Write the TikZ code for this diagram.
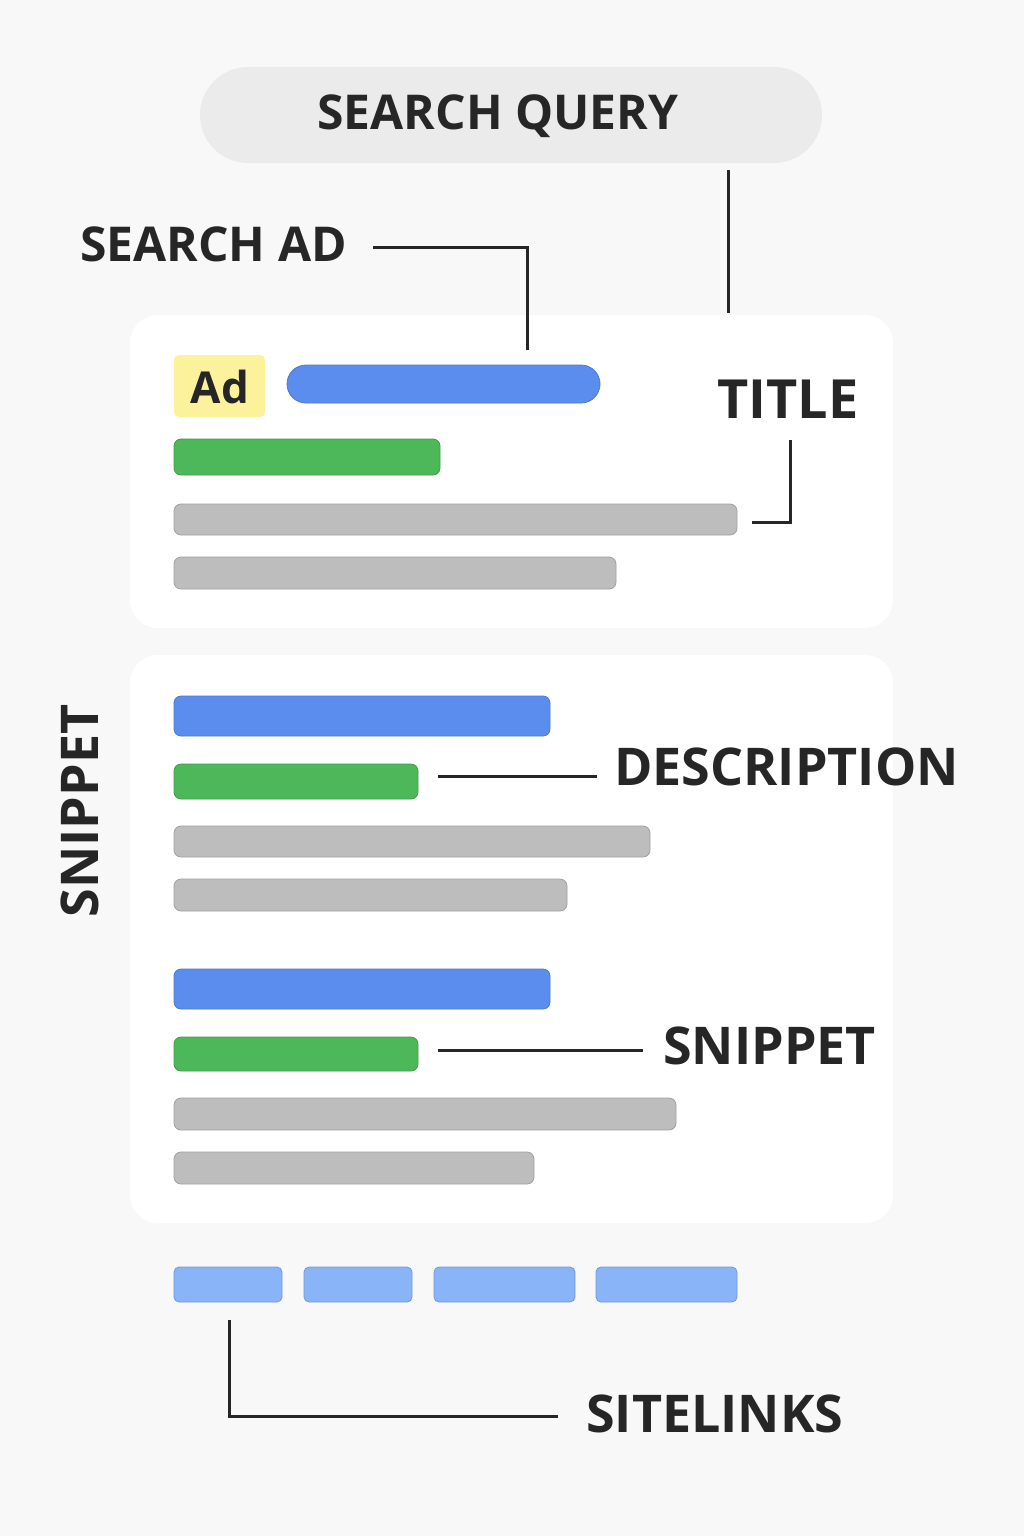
\documentclass[tikz,border=0pt]{standalone}
\usepackage{fontspec}
\setmainfont{Open Sans}
\begin{document}
\begin{tikzpicture}[x=1pt,y=-1pt,
  bar/.style={rounded corners=7pt,line width=0.8pt},
  blu/.style={bar,fill=blue1,draw=blue1!85!black},
  grn/.style={bar,fill=green1,draw=green1!85!black},
  gry/.style={bar,fill=gray1,draw=gray1!85!black},
  lnk/.style={rounded corners=5pt,fill=blue2,draw=blue2!85!black,line width=0.8pt},
  card/.style={fill=white,rounded corners=28pt},
  lbl/.style={font=\fontsize{48}{48}\selectfont\bfseries,text=black!85,inner sep=0pt},
  big/.style={lbl,font=\fontsize{52}{52}\selectfont\bfseries},
  conn/.style={line width=3pt,draw=black!85}]
\definecolor{blue1}{HTML}{5B8DEF}
\definecolor{blue2}{HTML}{8AB4F8}
\definecolor{green1}{HTML}{4CB85A}
\definecolor{gray1}{HTML}{BDBDBD}
\definecolor{bg}{HTML}{F8F8F8}
\definecolor{ylw}{HTML}{FCF29C}
\fill[bg] (0,0) rectangle (1024,1536);
\useasboundingbox (0,0) rectangle (1024,1536);
% query
\fill[black!8,rounded corners=48pt] (200,67) rectangle (822,163);
\node[lbl,anchor=center] (q) at (498,116) {SEARCH QUERY};
% cards
\fill[card] (130,315) rectangle (893,628);
\fill[card] (130,655) rectangle (893,1223);
\coordinate (q1) at (728,170); \coordinate (q2) at (728,313);
\draw[conn] (q1) -- (q2);
% search ad
\node[lbl,anchor=west] (sa) at (80,244) {SEARCH AD};
\coordinate (sa1) at (373,247); \coordinate (sa2) at (527,350);
\draw[conn] (sa1) -| (sa2);
% card 1
\fill[ylw,rounded corners=5pt] (174,355) rectangle (265,417);
\node[lbl,font=\fontsize{44}{44}\selectfont\bfseries] (ad) at (220,387) {Ad};
\draw[blu,rounded corners=19pt] (287,365) rectangle (600,403);
\draw[grn] (174,439) rectangle (440,475);
\draw[gry] (174,504) rectangle (737,535);
\draw[gry] (174,557) rectangle (616,589);
\node[big,font=\fontsize{54}{54}\selectfont\bfseries] (t) at (788,399) {TITLE};
\coordinate (t1) at (790,440); \coordinate (t2) at (752,522);
\draw[conn] (t1) |- (t2);
% card 2
\draw[blu] (174,696) rectangle (550,736);
\draw[grn] (174,764) rectangle (418,799);
\coordinate (d1) at (438,776); \coordinate (d2) at (597,776);
\draw[conn] (d1) -- (d2);
\node[big,anchor=west] (d) at (614,767) {DESCRIPTION};
\draw[gry] (174,826) rectangle (650,857);
\draw[gry] (174,879) rectangle (567,911);
\draw[blu] (174,969) rectangle (550,1009);
\draw[grn] (174,1037) rectangle (418,1071);
\coordinate (s1) at (438,1050); \coordinate (s2) at (643,1050);
\draw[conn] (s1) -- (s2);
\node[big,anchor=west] (s) at (663,1046) {SNIPPET};
\draw[gry] (174,1098) rectangle (676,1130);
\draw[gry] (174,1152) rectangle (534,1184);
% vertical snippet
\node[big,rotate=90] (vs) at (80,811) {SNIPPET};
% sitelinks
\draw[lnk] (174,1267) rectangle (282,1302);
\draw[lnk] (304,1267) rectangle (412,1302);
\draw[lnk] (434,1267) rectangle (575,1302);
\draw[lnk] (596,1267) rectangle (737,1302);
\coordinate (l1) at (229,1320); \coordinate (l2) at (558,1416);
\draw[conn] (l1) |- (l2);
\node[big,anchor=west] (sl) at (586,1414) {SITELINKS};
\end{tikzpicture}
\end{document}
